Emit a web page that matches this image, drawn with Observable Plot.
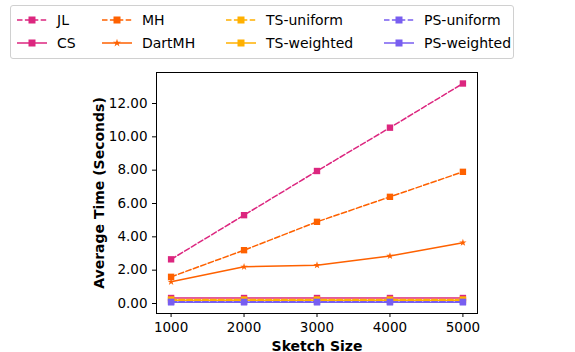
<!DOCTYPE html>
<html><head><meta charset="utf-8">
<script src="https://cdn.jsdelivr.net/npm/d3@7"></script>
<script src="https://cdn.jsdelivr.net/npm/@observablehq/plot@0.6"></script>
<style>
body{margin:0;background:#fff;font-family:"DejaVu Sans",sans-serif;}
#wrap{position:relative;width:575px;height:352px;}
#legend{position:absolute;left:10px;top:5px;width:504px;height:54px;border:1px solid #d0d0d0;border-radius:3px;box-sizing:border-box;}
.item{position:absolute;display:flex;align-items:center;font-size:14px;color:#000;white-space:nowrap;}
.item svg{margin-right:9px;}
#chart{position:absolute;left:0;top:62px;}
</style></head><body>
<div id="wrap"><div id="legend"></div><div id="chart"></div></div>
<script>
const sizes = [1000, 2000, 3000, 4000, 5000];
const seriesNames = ["JL", "CS", "MH", "DartMH", "TS-uniform", "TS-weighted", "PS-uniform", "PS-weighted"];
const JL = [2.65, 5.3, 7.95, 10.55, 13.2];
const CS = [0.33, 0.33, 0.33, 0.33, 0.33];
const MH = [1.6, 3.2, 4.9, 6.4, 7.9];
const DartMH = [1.3, 2.2, 2.3, 2.85, 3.65];
const TSuniform = [0.24, 0.24, 0.24, 0.24, 0.24];
const TSweighted = [0.2, 0.2, 0.2, 0.2, 0.2];
const PSuniform = [0.1, 0.1, 0.1, 0.1, 0.1];
const PSweighted = [0.07, 0.07, 0.07, 0.07, 0.07];
const yTicks = [0, 2, 4, 6, 8, 10, 12];

const colors = {"JL":"#DC267F","CS":"#DC267F","MH":"#FE6100","DartMH":"#FE6100","TS-uniform":"#FFB000","TS-weighted":"#FFB000","PS-uniform":"#785EF0","PS-weighted":"#785EF0"};
const dashed = {"JL":true,"CS":false,"MH":true,"DartMH":false,"TS-uniform":true,"TS-weighted":false,"PS-uniform":true,"PS-weighted":false};
const symbols = {"JL":"square","CS":"square","MH":"square","DartMH":"star","TS-uniform":"square","TS-weighted":"square","PS-uniform":"square","PS-weighted":"square"};
const values = {"JL":JL,"CS":CS,"MH":MH,"DartMH":DartMH,"TS-uniform":TSuniform,"TS-weighted":TSweighted,"PS-uniform":PSuniform,"PS-weighted":PSweighted};

const rows = [];
for (const s of seriesNames) values[s].forEach((v,i)=>rows.push({series:s, x:sizes[i], y:v}));

const marks = [];
for (const s of seriesNames) {
  const d = rows.filter(r=>r.series===s);
  marks.push(Plot.line(d,{x:"x",y:"y",stroke:colors[s],strokeWidth:1.5,strokeDasharray:dashed[s]?"5.5,2.4":null}));
  marks.push(Plot.dot(d,{x:"x",y:"y",fill:colors[s],stroke:"none",symbol:symbols[s],r:symbols[s]==="star"?2.3:3.6}));
}
marks.push(Plot.frame({stroke:"#000",strokeWidth:1}));

const chart = Plot.plot({
  width:575, height:290,
  marginLeft:156, marginRight:98, marginTop:10, marginBottom:39,
  style:{fontFamily:"DejaVu Sans, sans-serif", fontSize:"13.5px", color:"#000", background:"#fff"},
  x:{domain:[800,5200], ticks:sizes, tickFormat:d=>String(d), tickSize:4, label:"Sketch Size", labelAnchor:"center", labelArrow:"none", labelOffset:37},
  y:{domain:[-0.6,13.86], ticks:yTicks, tickFormat:d=>d.toFixed(2), tickSize:4, label:"Average Time (Seconds)", labelAnchor:"center", labelArrow:"none", labelOffset:62},
  marks
});
chart.querySelectorAll("g[aria-label='x-axis label'] text, g[aria-label='y-axis label'] text").forEach(t=>{t.style.fontWeight="bold";t.style.fontSize="14px";});
document.getElementById("chart").appendChild(chart);

// legend
const legend = document.getElementById("legend");
const pos = [[5,6],[5,29],[90,6],[90,29],[214,6],[214,29],[372,6],[372,29]];
seriesNames.forEach((s,i)=>{
  const div = document.createElement("div");
  div.className="item";
  div.style.left=pos[i][0]+"px"; div.style.top=pos[i][1]+"px";
  const c = colors[s];
  const mk = symbols[s]==="star"
    ? `<path d="${d3.symbol(d3.symbolStar, 20)()}" transform="translate(16,8)" fill="${c}"/>`
    : `<rect x="12.5" y="4.5" width="7" height="7" fill="${c}"/>`;
  div.innerHTML = `<svg width="32" height="16"><line x1="1" y1="8" x2="31" y2="8" stroke="${c}" stroke-width="1.5" ${dashed[s]?'stroke-dasharray="5.5,2.4"':''}/>${mk}</svg><span>${s}</span>`;
  legend.appendChild(div);
});
</script></body></html>
